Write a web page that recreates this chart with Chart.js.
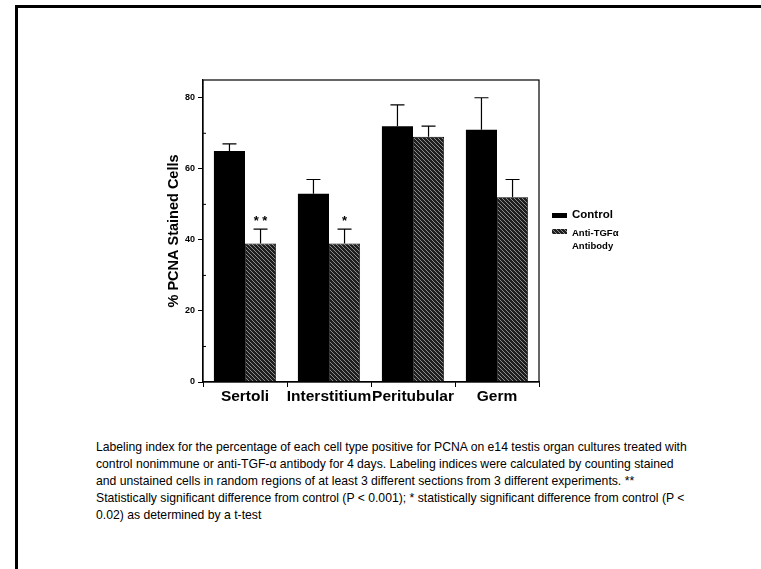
<!DOCTYPE html>
<html lang="en">
<head>
    <meta charset="UTF-8">
    <title>PCNA Stained Cells</title>
    <script src="https://cdn.jsdelivr.net/npm/chart.js"></script>
    <style>
        body {
            margin: 0;
            background: #fff;
            width: 761px;
            height: 569px;
            overflow: hidden;
            position: relative;
            font-family: "Liberation Sans", Arial, sans-serif;
        }
        .frame {
            position: absolute;
            left: 15px;
            top: 5px;
            width: 800px;
            height: 600px;
            border-left: 3px solid #000;
            border-top: 3px solid #000;
        }
        .chart-box {
            position: absolute;
            left: 0;
            top: 0;
            width: 761px;
            height: 430px;
        }
        .legend {
            position: absolute;
            left: 552px;
            top: 207px;
            font-weight: bold;
            color: #000;
        }
        .legend .row { position: relative; height: 16px; }
        .legend .sw { position: absolute; left: 0; width: 15px; height: 5px; }
        .legend .lbl { position: absolute; left: 20px; white-space: nowrap; }
        .caption {
            position: absolute;
            left: 96px;
            top: 439px;
            font-size: 12.2px;
            line-height: 17px;
            white-space: nowrap;
            color: #000;
        }
    </style>
</head>
<body>
    <div class="frame"></div>
    <div class="chart-box"><canvas id="chart"></canvas></div>
    <div class="legend">
        <div class="row">
            <div class="sw" style="top:6px;background:#000"></div>
            <div class="lbl" style="font-size:11.5px;top:1px">Control</div>
        </div>
        <div class="row">
            <canvas class="sw" id="swatch" width="15" height="5" style="top:6px"></canvas>
            <div class="lbl" style="font-size:9.5px;top:3px;line-height:13px">Anti-TGFα<br>Antibody</div>
        </div>
    </div>
    <div class="caption">
        Labeling index for the percentage of each cell type positive for PCNA on e14 testis organ cultures treated with<br>
        control nonimmune or anti-TGF-α antibody for 4 days. Labeling indices were calculated by counting stained<br>
        and unstained cells in random regions of at least 3 different sections from 3 different experiments. **<br>
        Statistically significant difference from control (P &lt; 0.001); * statistically significant difference from control (P &lt;<br>
        0.02) as determined by a t-test
    </div>

    <script>
        const categories = ['Sertoli', 'Interstitium', 'Peritubular', 'Germ'];
        const controlValues = [65, 53, 72, 71];
        const controlErrors = [2, 4, 6, 9];
        const antiValues = [39, 39, 69, 52];
        const antiErrors = [4, 4, 3, 5];
        const antiMarks = ['**', '*', '', ''];
        const yTicks = [0, 20, 40, 60, 80];
        const yMinorTicks = [10, 30, 50, 70];

        function makeHatch() {
            const c = document.createElement('canvas');
            c.width = 4; c.height = 4;
            const g = c.getContext('2d');
            g.fillStyle = '#1e1e1e';
            g.fillRect(0, 0, 4, 4);
            g.fillStyle = '#8c8c8c';
            for (let i = 0; i < 4; i++) g.fillRect(i, i, 1, 1);
            return g.createPattern(c, 'repeat');
        }
        const hatch = makeHatch();

        const sw = document.getElementById('swatch').getContext('2d');
        sw.fillStyle = hatch;
        sw.fillRect(0, 0, 15, 5);

        // error bars (up only), significance stars, frame box and minor ticks
        const extras = {
            id: 'extras',
            afterDatasetsDraw(chart) {
                const ctx = chart.ctx;
                const y = chart.scales.y;
                const errs = [controlErrors, antiErrors];
                ctx.save();
                ctx.strokeStyle = '#000';
                ctx.lineWidth = 1.2;
                chart.data.datasets.forEach((ds, di) => {
                    chart.getDatasetMeta(di).data.forEach((bar, i) => {
                        const top = y.getPixelForValue(ds.data[i] + errs[di][i]);
                        ctx.beginPath();
                        ctx.moveTo(bar.x, bar.y);
                        ctx.lineTo(bar.x, top);
                        ctx.moveTo(bar.x - 7, top);
                        ctx.lineTo(bar.x + 7, top);
                        ctx.stroke();
                        if (di === 1 && antiMarks[i]) {
                            ctx.fillStyle = '#000';
                            ctx.font = 'bold 13px "Liberation Sans", Arial';
                            ctx.textAlign = 'center';
                            ctx.textBaseline = 'bottom';
                            ctx.fillText(antiMarks[i].split('').join(' '), bar.x, top - 1);
                        }
                    });
                });
                const a = chart.chartArea;
                ctx.lineWidth = 1.2;
                ctx.strokeRect(a.left, a.top, a.right - a.left, a.bottom - a.top);
                ctx.lineWidth = 1;
                yMinorTicks.forEach(v => {
                    const py = y.getPixelForValue(v);
                    ctx.beginPath();
                    ctx.moveTo(a.left, py);
                    ctx.lineTo(a.left + 3, py);
                    ctx.stroke();
                });
                ctx.restore();
            }
        };

        new Chart(document.getElementById('chart'), {
            type: 'bar',
            data: {
                labels: categories,
                datasets: [
                    { label: 'Control', data: controlValues, backgroundColor: '#000', borderColor: '#000', borderWidth: 0 },
                    { label: 'Anti-TGFα Antibody', data: antiValues, backgroundColor: hatch, borderColor: '#000', borderWidth: 0.8 }
                ]
            },
            options: {
                responsive: true,
                maintainAspectRatio: false,
                animation: false,
                layout: { padding: { left: 165, top: 80, right: 222, bottom: 18 } },
                plugins: { legend: { display: false }, tooltip: { enabled: false } },
                datasets: { bar: { categoryPercentage: 0.74, barPercentage: 1.0 } },
                scales: {
                    x: {
                        offset: true,
                        grid: { offset: true, drawOnChartArea: false, color: '#000', tickLength: 5, lineWidth: 1 },
                        border: { color: '#000', width: 1.2 },
                        ticks: { color: '#000', padding: 0, maxRotation: 0, minRotation: 0, autoSkip: false, font: { family: '"Liberation Sans", Arial', size: 15.5, weight: 'bold' } },
                        afterFit: s => { s.height = 30; }
                    },
                    y: {
                        min: 0,
                        max: 85,
                        afterBuildTicks: s => { s.ticks = yTicks.map(v => ({ value: v })); },
                        grid: { drawOnChartArea: false, color: '#000', tickLength: 5 },
                        border: { color: '#000', width: 1.2 },
                        ticks: { color: '#000', padding: 3, font: { family: '"Liberation Sans", Arial', size: 9, weight: 'bold' } },
                        title: { display: true, text: '% PCNA Stained Cells', color: '#000', padding: { top: 0, bottom: 6 }, font: { family: '"Liberation Sans", Arial', size: 14.5, weight: 'bold' } },
                        afterFit: s => { s.width = 38; }
                    }
                }
            },
            plugins: [extras]
        });
    </script>
</body>
</html>
